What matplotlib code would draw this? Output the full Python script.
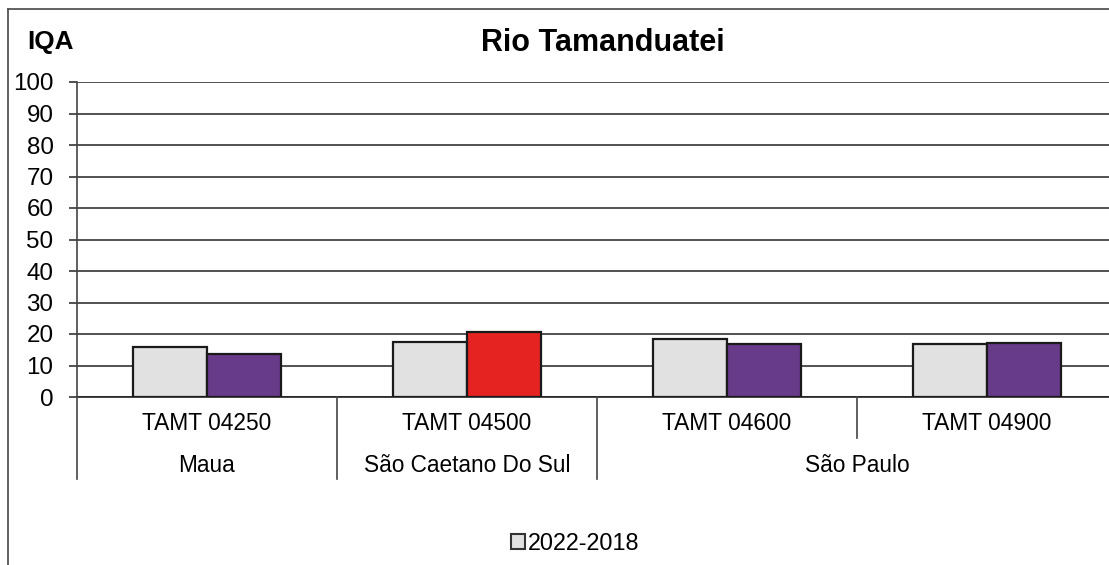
import matplotlib
matplotlib.use("Agg")
import matplotlib.pyplot as plt
from matplotlib.lines import Line2D
from matplotlib.patches import Patch
import matplotlib.transforms as mtransforms

plt.rcParams['font.family'] = ['Liberation Sans', 'DejaVu Sans']

# Data
stations = ["TAMT 04250", "TAMT 04500", "TAMT 04600", "TAMT 04900"]
municipalities = ["Maua", "São Caetano Do Sul", "São Paulo", "São Paulo"]
iqa_2022_2018 = [15.8, 17.5, 18.4, 16.7]
iqa_2023 = [13.5, 20.7, 16.9, 17.1]
colors_2023 = ["#673A8A", "#E52421", "#673A8A", "#673A8A"]
yticks = list(range(0, 101, 10))
legend_label = "2022-2018"
title = "Rio Tamanduatei"
ylabel = "IQA"

W, H = 1109, 565
fig = plt.figure(figsize=(W / 100, H / 100), dpi=100)
fig.patch.set_facecolor("white")

x0, x1, y0, y1 = 77, 1117, 397, 82
ax = fig.add_axes([x0 / W, (H - y0) / H, (x1 - x0) / W, (y0 - y1) / H])
ax.set_xlim(0, len(stations))
ax.set_ylim(0, 100)

bw = 0.285
for i in range(len(stations)):
    c = i + 0.5
    ax.bar(c - bw / 2, iqa_2022_2018[i], width=bw, color="#E1E1E1",
           edgecolor="#1a1a1a", linewidth=1.6, zorder=3)
    ax.bar(c + bw / 2, iqa_2023[i], width=bw, color=colors_2023[i],
           edgecolor="#1a1a1a", linewidth=1.6, zorder=3)

ax.set_yticks(yticks)
ax.set_yticklabels([str(v) for v in yticks], fontsize=17.4)
ax.tick_params(axis="y", length=6, width=1.2, color="#333333", pad=11)
ax.set_xticks([])
ax.grid(axis="y", color="#222222", linewidth=1.1, zorder=1)
ax.set_axisbelow(True)
for s in ["top", "right", "bottom"]:
    ax.spines[s].set_visible(False)
ax.spines["left"].set_color("#444444")
ax.spines["left"].set_linewidth(1.2)
ax.axhline(0, color="#222222", linewidth=1.2, zorder=2, clip_on=False)

trans = mtransforms.blended_transform_factory(ax.transData, ax.transAxes)
row1 = -27 / (y0 - y1)
row2 = -69 / (y0 - y1)
low1 = -41 / (y0 - y1)
low2 = -82 / (y0 - y1)

for i, st in enumerate(stations):
    ax.text(i + 0.5, row1, st, transform=trans, ha="center", va="center", fontsize=16.4)

# municipality groups
groups = []
for i, m in enumerate(municipalities):
    if groups and groups[-1][0] == m:
        groups[-1][2] = i + 1
    else:
        groups.append([m, i, i + 1])
for m, a, b in groups:
    ax.text((a + b) / 2, row2, m, transform=trans, ha="center", va="center", fontsize=16.3)
    ax.plot([a, a], [0, low2], transform=trans, color="#444444", linewidth=1.2, clip_on=False)
    for k in range(a + 1, b):
        ax.plot([k, k], [0, low1], transform=trans, color="#444444", linewidth=1.2, clip_on=False)

# Title and IQA label
fig.text(603 / W, 1 - 43 / H, title, ha="center", va="center", fontsize=22, fontweight="bold")
fig.text(27 / W, 1 - 42 / H, ylabel, ha="left", va="center", fontsize=18.8, fontweight="bold")

# Legend
leg = fig.legend(handles=[Patch(facecolor="#E1E1E1", edgecolor="#333333", linewidth=1.5, label=legend_label)],
                 loc="center", bbox_to_anchor=(575 / W, 1 - 543 / H), frameon=False,
                 fontsize=16.8, handlelength=0.6, handleheight=0.6, handletextpad=0.1)

# Outer frame
fig.add_artist(Line2D([8 / W, 8 / W], [0, 1 - 9 / H], color="#555555", linewidth=1.3))
fig.add_artist(Line2D([8 / W, 1], [1 - 9 / H, 1 - 9 / H], color="#555555", linewidth=1.3))

fig.savefig("out.png", dpi=100)
